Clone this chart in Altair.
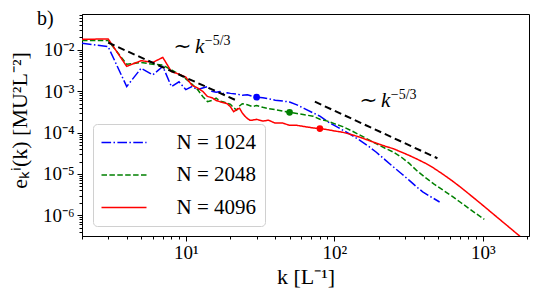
import altair as alt
import pandas as pd

# ---------------- data ----------------
series_names = ["N = 1024", "N = 2048", "N = 4096"]
series_colors = ["#0000ff", "#008000", "#ff0000"]

k_1024 = [2, 3, 4, 5, 6, 7, 8, 9, 10, 11, 12, 13, 14, 15, 16, 17, 18, 19, 20,
          22, 24, 26, 28, 30, 33, 36, 40, 45, 50, 56, 63, 72, 80, 90, 100, 114,
          130, 148, 170, 191, 220, 249, 285, 320, 360, 394, 440, 512]
e_1024 = [0.0145, 0.012, 0.0013, 0.0036, 0.0025, 0.0040, 0.0013, 0.0017, 0.0011,
          0.0013, 0.0011, 0.0012, 0.0013, 0.0010, 0.00095, 0.00098, 0.00088, 0.00092,
          0.00089, 0.00086, 0.00080, 0.00082, 0.00076, 0.00072, 0.00070, 0.00066,
          0.00061, 0.00058, 0.00055, 0.00047, 0.00038, 0.00030, 0.00025, 0.000185,
          0.00015, 0.000115, 0.000088, 0.000066, 0.000047, 0.000034, 0.000022,
          0.000015, 0.0000100, 0.0000070, 0.0000048, 0.0000037, 0.0000029, 0.0000021]

k_2048 = [2, 3, 4, 5, 6, 7, 8, 9, 10, 11, 12, 13, 14, 15, 16, 17, 18, 19, 20, 21,
          22, 23, 24, 26, 28, 30, 33, 36, 40, 45, 50, 56, 63, 72, 80, 90, 100, 114,
          130, 148, 170, 191, 220, 249, 285, 320, 360, 418, 470, 538, 620, 703, 800,
          900, 1024]
e_2048 = [0.017, 0.017, 0.0045, 0.0050, 0.0045, 0.0043, 0.0033, 0.0026, 0.0020,
          0.0015, 0.0011, 0.00075, 0.00056, 0.00060, 0.00068, 0.00058, 0.00055,
          0.00052, 0.00048, 0.00040, 0.00035, 0.00044, 0.00050, 0.00047, 0.00043,
          0.00045, 0.00041, 0.00038, 0.00036, 0.00033, 0.00031, 0.00029, 0.00027,
          0.00025, 0.00021, 0.00019, 0.000165, 0.00014, 0.000112, 0.000088,
          0.000068, 0.000054, 0.000042, 0.000034, 0.000025, 0.000018, 0.000012,
          0.0000078, 0.0000057, 0.0000041, 0.0000029, 0.0000021, 0.0000015,
          0.0000011, 0.0000008]

k_4096 = [2, 3, 4, 5, 6, 7, 8, 9, 10, 11, 12, 13, 14, 15, 16, 17, 18, 19, 20, 21,
          22, 23, 24, 25, 26, 27, 28, 30, 33, 36, 40, 45, 50, 56, 63, 72, 80, 90,
          100, 114, 130, 148, 170, 191, 220, 249, 285, 320, 360, 418, 470, 538, 620,
          703, 800, 900, 1024, 1230, 1450, 1650, 1800, 2048]
e_4096 = [0.018, 0.0185, 0.0040, 0.0055, 0.0050, 0.0066, 0.0030, 0.0026, 0.0022,
          0.0014, 0.0012, 0.0010, 0.00075, 0.00070, 0.00060, 0.00056, 0.00053,
          0.00050, 0.00042, 0.00032, 0.00036, 0.00039, 0.00030, 0.00025, 0.00022,
          0.00020, 0.00020, 0.00021, 0.00019, 0.00020, 0.00017, 0.00017, 0.00015,
          0.00015, 0.00014, 0.00013, 0.000125, 0.000118, 0.000110, 0.000102,
          0.000090, 0.000078, 0.000065, 0.000056, 0.000047, 0.000041, 0.0000335,
          0.000028, 0.000023, 0.0000176, 0.0000137, 0.0000099, 0.0000069,
          0.0000049, 0.00000337, 0.00000239, 0.00000163, 0.00000094, 0.000000575,
          0.00000039, 0.00000030, 0.000000205]

# marked points on each curve
dot_k = [30, 50, 80]
dot_e = [0.00072, 0.00031, 0.000125]

# two k^-5/3 guide segments (endpoints)
guide_seg = ["a", "a", "b", "b"]
guide_k = [3, 21.5, 74, 495]
guide_e = [0.015, 0.00062, 0.00056, 0.000024]

# annotation anchors
ann_k = [8.05, 144]
ann_e = [0.0085, 0.00042]
ann_text = ["\u223c k", "\u223c k"]
ann_exp = ["\u22125/3", "\u22125/3"]

panel_label = ["b)"]

x_tick_values = [m * 10 ** p for p in range(0, 4) for m in range(1, 10)
                 if 2 <= m * 10 ** p <= 2048]
y_tick_values = [m * 10.0 ** p for p in range(-7, -1) for m in range(1, 10)
                 if 3.16e-7 <= m * 10.0 ** p <= 0.074]

# ---------------- frames ----------------
rows = []
for name, ks, es in zip(series_names, [k_1024, k_2048, k_4096],
                        [e_1024, e_2048, e_4096]):
    for k, e in zip(ks, es):
        rows.append({"k": k, "e": e, "series": name})
df = pd.DataFrame(rows)
dots = pd.DataFrame({"k": dot_k, "e": dot_e, "series": series_names})
guides = pd.DataFrame({"k": guide_k, "e": guide_e, "seg": guide_seg})
ann = pd.DataFrame({"k": ann_k, "e": ann_e, "t": ann_text, "x": ann_exp})
lab = pd.DataFrame({"t": panel_label})

FONT = "Liberation Serif"

major = "abs(log(datum.value)/LN10 - round(log(datum.value)/LN10)) < 1e-6"
sup = {"0": "\u2070", "1": "\u00b9", "2": "\u00b2", "3": "\u00b3", "4": "\u2074",
       "5": "\u2075", "6": "\u2076", "7": "\u2077", "8": "\u2078", "9": "\u2079"}
def lab_expr(powers):
    expr = "''"
    for p in powers:
        s = ("\u207b" if p < 0 else "") + "".join(sup[c] for c in str(abs(p)))
        expr = f"round(log(datum.value)/LN10) == {p} ? '10{s}' : ({expr})"
    return f"({major}) ? ({expr}) : ''"

x_scale = alt.Scale(type="log", domain=[2, 2048], nice=False)
y_scale = alt.Scale(type="log", domain=[3.16e-7, 0.074], nice=False)

tick_size = {"condition": {"test": major, "value": 5}, "value": 3}

x_axis = alt.Axis(values=x_tick_values, labelExpr=lab_expr([0, 1, 2, 3]),
                  labelOverlap=False, tickSize=tick_size, title="k  [L\u207b\u00b9]",
                  titleY=47, titleBaseline="alphabetic", labelPadding=2,
                  labelFlush=False, titleFontSize=22)
y_axis = alt.Axis(values=y_tick_values, labelExpr=lab_expr([-7, -6, -5, -4, -3, -2]),
                  labelOverlap=False, tickSize=tick_size,
                  title="e\u2096\u2071(k)  [MU\u00b2L\u207b\u00b2]",
                  titleX=-56, titleY=106, titleBaseline="alphabetic",
                  titleAlign="center", titleAngle=-90, labelPadding=3,
                  titleFontSize=22)

X = alt.X("k:Q", scale=x_scale, axis=x_axis)
Y = alt.Y("e:Q", scale=y_scale, axis=y_axis)
color_scale = alt.Scale(domain=series_names, range=series_colors)
dash_scale = alt.Scale(domain=series_names,
                       range=[[9.6, 2.4, 1.5, 2.4], [5.5, 2.4], [1, 0]])

legend = alt.Legend(title=None, orient="none", legendX=11, legendY=110,
                    symbolType="M-3,0H3", symbolSize=225, symbolOffset=12.5,
                    symbolStrokeWidth=1.5, labelOffset=42, rowPadding=10.5,
                    padding=8, labelFont=FONT, labelFontSize=21, labelLimit=300,
                    fillColor="white", strokeColor="#d0d0d0", cornerRadius=4)

lines = alt.Chart(df).mark_line(strokeWidth=1.5, clip=True).encode(
    x=X, y=Y,
    color=alt.Color("series:N", scale=color_scale, legend=legend),
    strokeDash=alt.StrokeDash("series:N", scale=dash_scale, legend=legend),
    order="k:Q",
)
guide = alt.Chart(guides).mark_line(color="black", strokeWidth=2,
                                    strokeDash=[7, 4]).encode(
    x=X, y=Y, detail="seg:N")
pts = alt.Chart(dots).mark_circle(size=45, opacity=1).encode(
    x=X, y=Y, color=alt.Color("series:N", scale=color_scale, legend=None))
txt = alt.Chart(ann).mark_text(font=FONT, fontSize=21, align="left",
                               fontStyle="italic",
                               baseline="alphabetic", color="black").encode(
    x=X, y=Y, text="t:N")
txt_exp = alt.Chart(ann).mark_text(font=FONT, fontSize=14, align="left",
                                   baseline="alphabetic", color="black",
                                   dx=33, dy=-8).encode(x=X, y=Y, text="x:N")
panel = alt.Chart(lab).mark_text(font=FONT, fontSize=20, align="left",
                                 baseline="alphabetic", color="black").encode(
    x=alt.value(-45), y=alt.value(11), text="t:N")

chart = alt.layer(lines, guide, pts, txt, txt_exp, panel).properties(
    width=447, height=222,
    autosize=alt.AutoSizeParams(type="none"),
    padding={"left": 74, "top": 6, "right": 2, "bottom": 53},
).configure_view(stroke="black", strokeWidth=1).configure_axis(
    domainColor="black", tickColor="black", tickWidth=1, grid=False,
    labelFont=FONT, labelFontSize=19, labelColor="black",
    titleFont=FONT, titleFontSize=20, titleFontWeight="normal", titleColor="black",
)

chart.save("out.html", embed_options={"renderer": "svg", "actions": False})
